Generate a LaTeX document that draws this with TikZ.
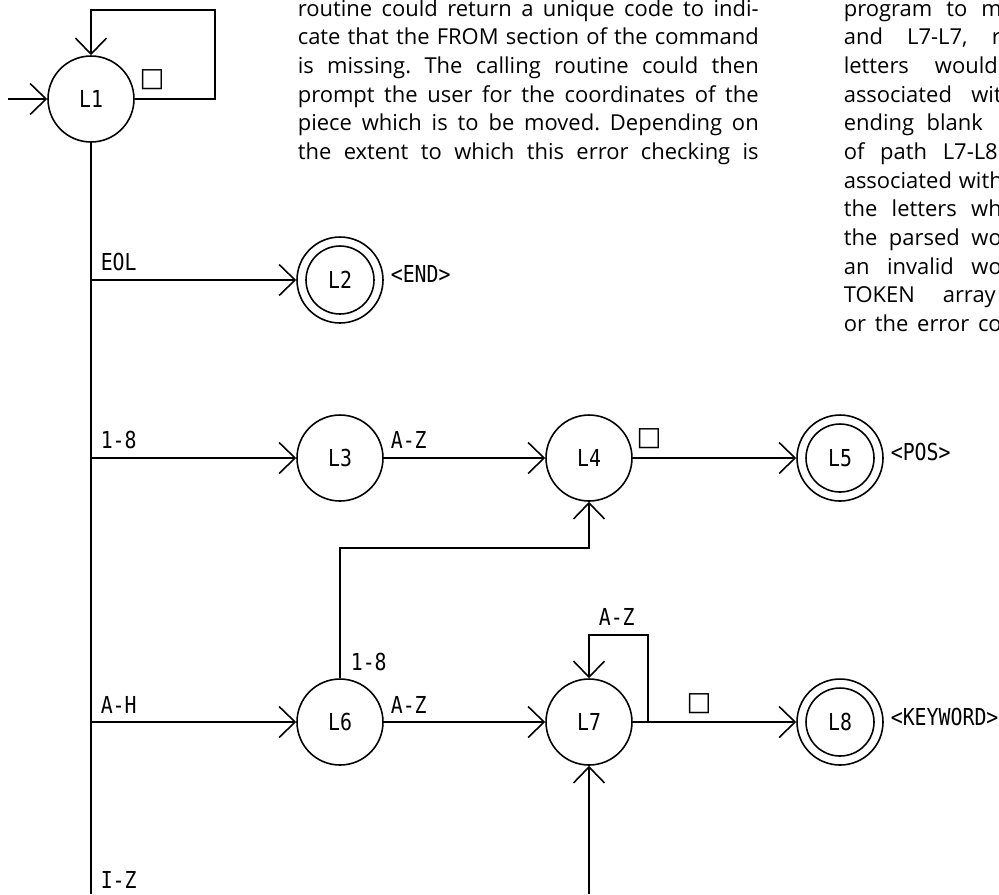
\documentclass[tikz,border=0pt]{standalone}
\usepackage{fontspec}
\setmainfont{Open Sans}
\newfontfamily\plotfont[FakeStretch=0.85]{DejaVu Sans Mono}
\newfontfamily\boxfont{DejaVu Sans}
\usetikzlibrary{arrows.meta}
\frenchspacing

\begin{document}
\begin{tikzpicture}[
    x=0.02cm, y=-0.02cm, line width=0.9pt,
    >={Straight Barb[length=0.32cm, width=0.62cm]},
    state/.style={draw, circle, minimum size=1.72cm, inner sep=0pt,
                  font=\plotfont\fontsize{13.3}{16}\selectfont},
    final/.style={state, path picture={\draw[line width=0.9pt]
                  (path picture bounding box.center) circle (0.68cm);}},
    lab/.style={anchor=base west, inner sep=0pt,
                font=\plotfont\fontsize{13.3}{16}\selectfont},
    blank/.style={inner sep=0pt, font=\boxfont\fontsize{15}{16}\selectfont},
    txt/.style={anchor=base west, inner sep=0pt,
                font=\fontsize{12.5}{14}\selectfont}
  ]
  \useasboundingbox (0,0) rectangle (999,894);

  % text of the page round the figure
  \node[txt] (p1) at (297,16) {\makebox[9.22cm][s]{routine could return a unique code to indi-}};
  \node[txt] (p2) at (297,44.6) {\makebox[9.22cm][s]{cate that the FROM section of the command}};
  \node[txt] (p3) at (297,73) {\makebox[9.22cm][s]{is missing. The calling routine could then}};
  \node[txt] (p4) at (297,102) {\makebox[9.22cm][s]{prompt the user for the coordinates of the}};
  \node[txt] (p5) at (297,130) {\makebox[9.22cm][s]{piece which is to be moved. Depending on}};
  \node[txt] (p6) at (297,159) {\makebox[9.22cm][s]{the extent to which this error checking is}};

  \node[txt] (q1) at (843,16) {\makebox[3.16cm][s]{program to m}};
  \node[txt] (q2) at (843,44.6) {\makebox[3.14cm][s]{and L7-L7, r}};
  \node[txt] (q3) at (843,73) {\makebox[3.08cm][s]{letters would}};
  \node[txt] (q4) at (843,102) {\makebox[3.16cm][s]{associated wit}};
  \node[txt] (q5) at (843,130) {\makebox[2.78cm][s]{ending blank}};
  \node[txt] (q6) at (843,159) {\makebox[3.08cm][s]{of path L7-L8}};
  \node[txt] (q7) at (843,188) {\makebox[3.18cm][s]{associated with}};
  \node[txt] (q8) at (843,216) {\makebox[3.16cm][s]{the letters wh}};
  \node[txt] (q9) at (843,245) {\makebox[3.16cm][s]{the parsed wo}};
  \node[txt] (q10) at (843,274) {\makebox[3.16cm][s]{an invalid wo}};
  \node[txt] (q11) at (843,302) {\makebox[3.04cm][s]{TOKEN array}};
  \node[txt] (q12) at (843,331) {\makebox[3.16cm][s]{or the error co}};

  % states
  \node[state] (L1) at (91,99) {L1};
  \node[final] (L2) at (340,280) {L2};
  \node[state] (L3) at (340,458) {L3};
  \node[state] (L4) at (589,458) {L4};
  \node[final] (L5) at (840,458) {L5};
  \node[state] (L6) at (340,722) {L6};
  \node[state] (L7) at (589,722) {L7};
  \node[final] (L8) at (840,722) {L8};

  \coordinate (in1) at (8,99);
  \coordinate (t1) at (215,10);
  \coordinate (bot) at (91,894);
  \coordinate (e2) at (91,280);
  \coordinate (e3) at (91,458);
  \coordinate (e6) at (91,722);
  \coordinate (c6) at (340,548);
  \coordinate (j7) at (648,722);
  \coordinate (t7) at (648,635);
  \coordinate (b7) at (589,894);

  % transitions
  \draw[->] (in1) -- (L1);
  \draw[->] (L1.east) -| (t1) -| (L1.north);
  \draw (L1) -- (bot);
  \draw[->] (e2) -- (L2);
  \draw[->] (e3) -- (L3);
  \draw[->] (L3) -- (L4);
  \draw[->] (L4) -- (L5);
  \draw[->] (e6) -- (L6);
  \draw[->] (L6) -- (L7);
  \draw[->] (L7) -- (L8);
  \draw[->] (L6.north) -- (c6) -| (L4.south);
  \draw[->] (j7) -- (t7) -| (L7.north);
  \draw[->] (b7) -- (L7);

  % labels
  \node[blank] (s1) at (152,80) {□};
  \node[blank] (s4) at (649,439) {□};
  \node[blank] (s7) at (699,704) {□};
  \node[lab] (lEOL) at (100,270) {EOL};
  \node[lab] (l18a) at (100,448) {1-8};
  \node[lab] (lAH) at (100,713) {A-H};
  \node[lab] (lIZ) at (100,888) {I-Z};
  \node[lab] (lAZ3) at (390,448) {A-Z};
  \node[lab] (lAZ6) at (390,713) {A-Z};
  \node[lab] (l18b) at (350,670) {1-8};
  \node[lab] (lAZ7) at (598,625) {A-Z};
  \node[lab] (lend) at (390,282) {<END>};
  \node[lab] (lpos) at (890,460) {<POS>};
  \node[lab] (lkey) at (890,725) {<KEYWORD>};
\end{tikzpicture}
\end{document}
